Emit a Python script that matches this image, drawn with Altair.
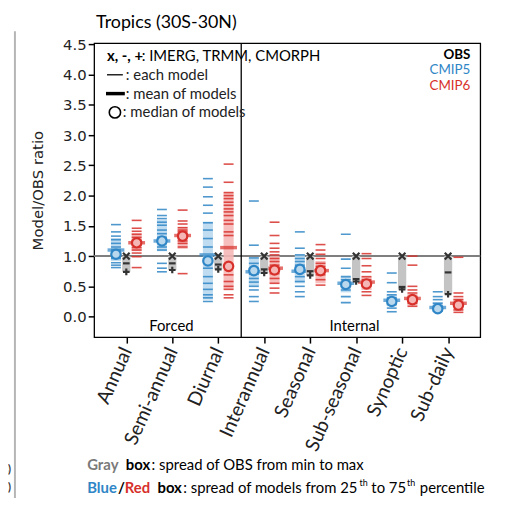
import json
import altair as alt
import pandas as pd

categories = ["Annual", "Semi-annual", "Diurnal", "Interannual", "Seasonal",
              "Sub-seasonal", "Synoptic", "Sub-daily"]

# individual model ratios (each dash)
cmip5_models = [
    [1.52, 1.40, 1.33, 1.27, 1.21, 1.15, 1.10, 1.05, 1.02, 0.98, 0.96, 0.89, 0.85, 0.81],
    [1.77, 1.67, 1.62, 1.56, 1.51, 1.43, 1.37, 1.31, 1.21, 1.15, 1.10, 0.88, 0.80, 0.74],
    [2.28, 2.14, 1.98, 1.84, 1.71, 1.55, 1.43, 1.29, 1.15, 0.80, 0.66, 0.55, 0.45, 0.36, 0.31, 0.25],
    [1.91, 1.18, 0.97, 0.88, 0.80, 0.70, 0.63, 0.57, 0.50, 0.44, 0.33, 0.25],
    [1.40, 1.13, 1.02, 0.96, 0.91, 0.85, 0.66, 0.58, 0.50, 0.41, 0.33],
    [1.36, 0.95, 0.80, 0.66, 0.61, 0.50, 0.44, 0.33, 0.23],
    [0.72, 0.56, 0.41, 0.36, 0.31, 0.20, 0.14, 0.08],
    [0.41, 0.33, 0.28, 0.22, 0.18, 0.09],
]
cmip6_models = [
    [1.59, 1.46, 1.41, 1.36, 1.31, 1.26, 1.18, 1.14, 1.10, 1.05, 0.99, 0.81],
    [1.76, 1.58, 1.53, 1.47, 1.43, 1.40, 1.36, 1.29, 1.25, 1.21, 1.15, 0.71],
    [2.52, 2.22, 2.05, 2.00, 1.95, 1.89, 1.84, 1.78, 1.73, 1.67, 1.59, 1.53, 1.40, 1.34,
     0.69, 0.58, 0.50, 0.45, 0.36, 0.31],
    [1.56, 1.34, 1.21, 1.13, 1.07, 1.02, 0.96, 0.91, 0.85, 0.71, 0.63, 0.55, 0.47, 0.39],
    [1.19, 1.10, 1.03, 0.96, 0.88, 0.83, 0.69, 0.61, 0.52],
    [1.04, 0.96, 0.84, 0.74, 0.66, 0.61, 0.50, 0.41, 0.35],
    [1.00, 0.85, 0.50, 0.44, 0.39, 0.33, 0.22, 0.17],
    [0.98, 0.39, 0.33, 0.28, 0.17, 0.11, 0.07],
]
cmip5_mean = [1.10, 1.25, 1.02, 0.74, 0.75, 0.55, 0.27, 0.15]
cmip6_mean = [1.22, 1.34, 1.14, 0.80, 0.76, 0.57, 0.30, 0.22]
cmip5_median = [1.03, 1.25, 0.92, 0.76, 0.78, 0.53, 0.25, 0.13]
cmip6_median = [1.22, 1.33, 0.83, 0.77, 0.76, 0.54, 0.28, 0.19]
cmip5_p25 = [0.92, 1.08, 0.28, 0.50, 0.55, 0.40, 0.17, 0.08]
cmip5_p75 = [1.30, 1.60, 1.57, 0.97, 1.02, 0.66, 0.36, 0.24]
cmip6_p25 = [1.08, 1.12, 0.45, 0.55, 0.55, 0.44, 0.18, 0.10]
cmip6_p75 = [1.38, 1.48, 2.05, 1.00, 0.92, 0.66, 0.38, 0.30]

obs_imerg = [1.00, 1.00, 1.00, 1.00, 1.00, 1.00, 1.00, 1.00]
obs_trmm = [0.88, 0.88, 0.86, 0.78, 0.75, 0.62, 0.49, 0.73]
obs_cmorph = [0.74, 0.77, 0.78, 0.72, 0.68, 0.58, 0.45, 0.37]

y_ticks = [0.0, 0.5, 1.0, 1.5, 2.0, 2.5, 3.0, 3.5, 4.0, 4.5]

BLUE = "#2f86c6"
RED = "#d7302b"
LBLUE = "#b9d8ee"
LRED = "#f5b7b5"
GRAY = "#c4c4c4"
LABEL_FONT = "Lato"

groups = {
    "CMIP5": dict(models=cmip5_models, mean=cmip5_mean, median=cmip5_median,
                  p25=cmip5_p25, p75=cmip5_p75, off=-0.225, color=BLUE, light=LBLUE),
    "CMIP6": dict(models=cmip6_models, mean=cmip6_mean, median=cmip6_median,
                  p25=cmip6_p25, p75=cmip6_p75, off=0.225, color=RED, light=LRED),
}

xscale = alt.Scale(domain=[-0.7, 7.7], nice=False, zero=False)
yscale = alt.Scale(domain=[-0.34, 4.52], nice=False, zero=False)
label_expr = json.dumps(categories) + "[datum.value]"
xaxis = alt.Axis(values=list(range(len(categories))), labelExpr=label_expr, title=None,
                 grid=False, domain=False, tickColor="black", tickSize=6, tickWidth=1.5,
                 labelAngle=-66, labelFont=LABEL_FONT, labelFontSize=19.5, labelOverlap=False,
                 labelColor="#222", labelPadding=5)
yaxis = alt.Axis(values=y_ticks, format=".1f", title="Model/OBS ratio", grid=False,
                 domain=False, tickColor="black", tickSize=6, tickWidth=1.5,
                 labelFont="DejaVu Sans", labelFontSize=15, labelColor="#222",
                 titleFont="DejaVu Sans", titleFontSize=15, titleFontWeight="normal",
                 titleColor="#222", titlePadding=17)

X = lambda f: alt.X(f, type="quantitative", scale=xscale, axis=xaxis)
Y = lambda f: alt.Y(f, type="quantitative", scale=yscale, axis=yaxis)

layers = []

# reference line at ratio 1 and forced / internal divider
ref_df = pd.DataFrame({"v": [1.0]})
layers.append(alt.Chart(ref_df).mark_rule(color="#7f7f7f", strokeWidth=2).encode(y=Y("v")))
div_df = pd.DataFrame({"d": [2.5]})
layers.append(alt.Chart(div_df).mark_rule(color="black", strokeWidth=1.3).encode(x=X("d")))

for name, g in groups.items():
    summ = pd.DataFrame({
        "idx": list(range(len(categories))),
        "mean": g["mean"], "median": g["median"], "p25": g["p25"], "p75": g["p75"],
    })
    base = alt.Chart(summ).transform_calculate(
        pos=f"datum.idx + ({g['off']})",
        lo=f"datum.idx + ({g['off']}) - 0.11",
        hi=f"datum.idx + ({g['off']}) + 0.11",
    )
    layers.append(base.mark_rect(color=g["light"], opacity=0.9).encode(
        x=X("lo"), x2="hi:Q", y=Y("p25"), y2="p75:Q"))
    rows = []
    for i, vals in enumerate(g["models"]):
        for v in vals:
            rows.append({"idx": i, "value": v})
    mdf = pd.DataFrame(rows)
    layers.append(alt.Chart(mdf).transform_calculate(pos=f"datum.idx + ({g['off']})")
                  .mark_tick(orient="horizontal", size=10, thickness=1.6, color=g["color"], opacity=0.85)
                  .encode(x=X("pos"), y=Y("value")))
    layers.append(base.mark_tick(orient="horizontal", size=17, thickness=3.5, color=g["color"])
                  .encode(x=X("pos"), y=Y("mean")))
    layers.append(base.mark_point(shape="circle", size=90, fill=g["light"], stroke=g["color"],
                                  strokeWidth=2.2, opacity=1, fillOpacity=1)
                  .encode(x=X("pos"), y=Y("median")))

obs = pd.DataFrame({"idx": list(range(len(categories))), "imerg": obs_imerg,
                    "trmm": obs_trmm, "cmorph": obs_cmorph})
obs_base = alt.Chart(obs).transform_calculate(
    omin="min(datum.imerg, datum.trmm, datum.cmorph)",
    omax="max(datum.imerg, datum.trmm, datum.cmorph)",
    lo="datum.idx - 0.09", hi="datum.idx + 0.09")
layers.append(obs_base.mark_rect(color=GRAY).encode(x=X("lo"), x2="hi:Q", y=Y("omin"), y2="omax:Q"))
mk = dict(filled=False, color="#333333", strokeWidth=2.2, opacity=1)
layers.append(obs_base.mark_point(shape="M-1,-1L1,1M-1,1L1,-1", size=45, **mk)
              .encode(x=X("idx"), y=Y("imerg")))
layers.append(obs_base.mark_point(shape="M-1,0L1,0", size=45, **mk)
              .encode(x=X("idx"), y=Y("trmm")))
layers.append(obs_base.mark_point(shape="M-1,0L1,0M0,-1L0,1", size=45, **mk)
              .encode(x=X("idx"), y=Y("cmorph")))


def label(text, x, y, **style):
    st = dict(font=LABEL_FONT, fontSize=15, color="#222", align="left", baseline="middle")
    st.update(style)
    return alt.Chart(pd.DataFrame({"t": [text]})).mark_text(**st).encode(
        x=alt.value(x), y=alt.value(y), text="t:N")


def seg(x1, x2, y, width, color="black"):
    return alt.Chart(pd.DataFrame({"a": [0]})).mark_rule(color=color, strokeWidth=width).encode(
        x=alt.value(x1), x2=alt.value(x2), y=alt.value(y))


# title
layers.append(label("Tropics (30S-30N)", 2, -20, fontSize=18, color="black"))
# left legend
layers.append(label("x, -, +", 13, 13, fontWeight="bold", color="black"))
layers.append(label(": IMERG, TRMM, CMORPH", 48, 13, color="black"))
layers.append(seg(13, 29, 32, 1.3))
layers.append(label(": each model", 32, 32))
layers.append(seg(12, 31, 51, 3.5))
layers.append(label(": mean of models", 32, 51))
layers.append(alt.Chart(pd.DataFrame({"a": [0]})).mark_point(
    shape="circle", size=130, filled=False, color="black", strokeWidth=1.6, opacity=1).encode(
    x=alt.value(21), y=alt.value(70)))
layers.append(label(": median of models", 29, 70))
# right legend
layers.append(label("OBS", 380, 12, align="right", fontWeight="bold", color="black", fontSize=13.5))
layers.append(label("CMIP5", 380, 27.5, align="right", color=BLUE, fontSize=13.5))
layers.append(label("CMIP6", 380, 43, align="right", color=RED, fontSize=13.5))
# section labels
layers.append(label("Forced", 78, 286, align="center", color="black"))
layers.append(label("Internal", 263, 286, align="center", color="black"))
# bottom notes
layers.append(label("Gray", -7, 426, fontWeight="bold", color="#7a7a7a"))
layers.append(label("box", 32, 426, fontWeight="bold", color="black"))
layers.append(label(": spread of OBS from min to max", 58, 426, color="black"))
layers.append(label("Blue", -7, 449, fontWeight="bold", color=BLUE))
layers.append(label("/", 24, 449, fontWeight="bold", color="black"))
layers.append(label("Red", 31, 449, fontWeight="bold", color=RED))
layers.append(label("box", 64, 449, fontWeight="bold", color="black"))
layers.append(label(": spread of models from 25", 90, 449, color="black"))
layers.append(label("th", 268, 444, fontSize=9, color="black"))
layers.append(label("to 75", 280, 449, color="black"))
layers.append(label("th", 316, 444, fontSize=9, color="black"))
layers.append(label("percentile", 329, 449, color="black"))
# fragments of the neighbouring panel
layers.append(alt.Chart(pd.DataFrame({"a": [0]})).mark_rule(color="#b5b5b5", strokeWidth=2).encode(
    x=alt.value(-80), y=alt.value(-12), y2=alt.value(470)))
layers.append(label("s)", -84, 431, align="right", fontSize=11, fontWeight="bold", color="#333"))
layers.append(label("PH)", -84, 449, align="right", fontSize=11, fontWeight="bold", color="#333"))

chart = alt.layer(*layers).properties(
    width=390, height=297,
    autosize=alt.AutoSizeParams(type="none"),
    padding={"left": 87, "top": 33, "right": 25, "bottom": 160},
).configure_view(stroke="black", strokeWidth=1.3)

chart.save("out.html", embed_options={"renderer": "svg", "actions": False})
